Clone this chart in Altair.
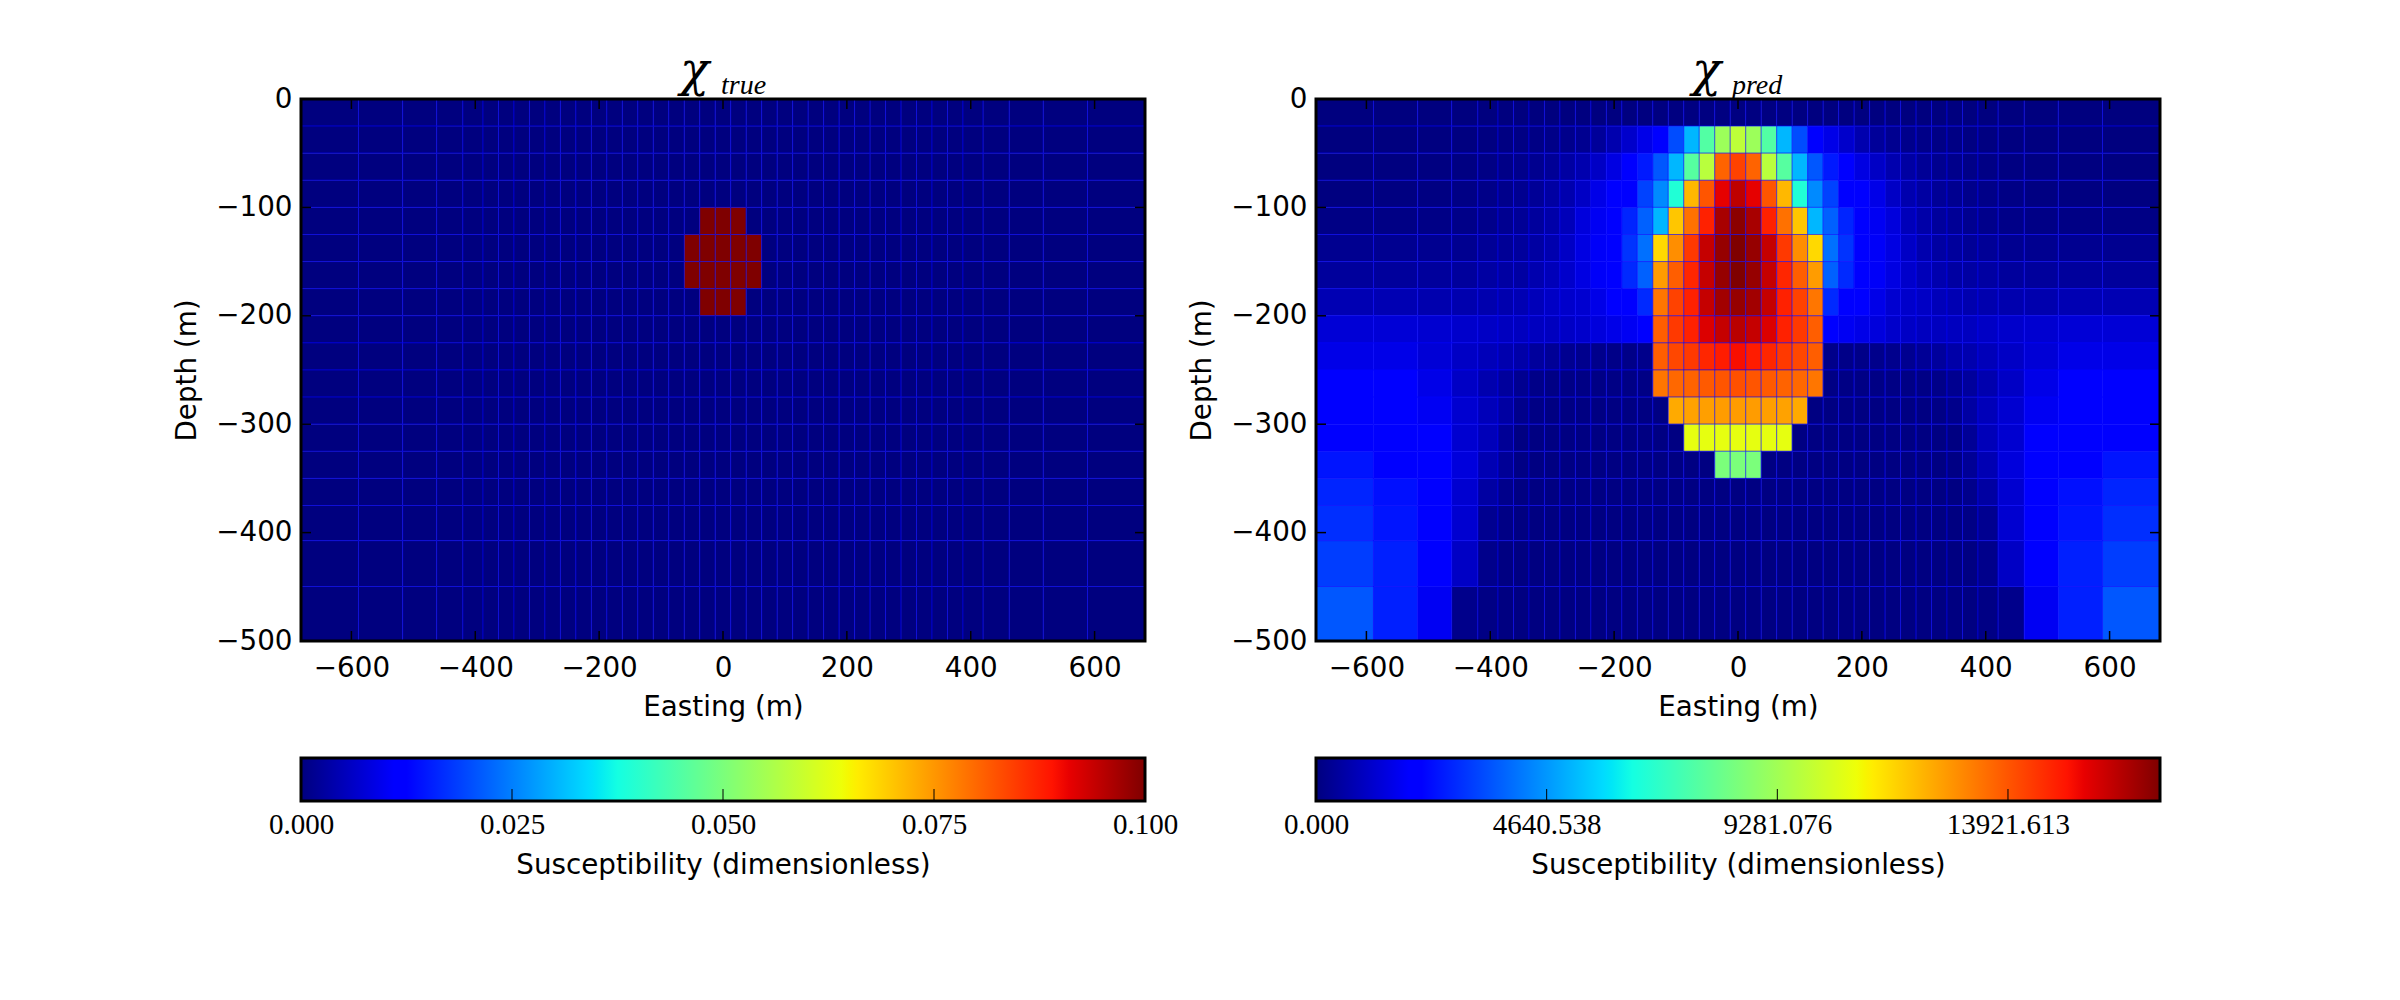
import altair as alt
import pandas as pd

# Mesh cell edges (m)
X_EDGES = [-681.4, -588.6, -517.2, -462.25, -420.0, -387.5, -362.5, -337.5, -312.5, -287.5, -262.5,
           -237.5, -212.5, -187.5, -162.5, -137.5, -112.5, -87.5, -62.5, -37.5, -12.5, 12.5,
           37.5, 62.5, 87.5, 112.5, 137.5, 162.5, 187.5, 212.5, 237.5, 262.5, 287.5, 312.5,
           337.5, 362.5, 387.5, 420.0, 462.25, 517.2, 588.6, 681.4]
Y_EDGES = [0, -25, -50, -75, -100, -125, -150, -175, -200, -225, -250, -275, -300, -325, -350,
           -375, -407.5, -449.75, -504.7]

# Predicted susceptibility, per mille of the colour range, top row first, west to east
PRED_ROWS = [
 [0,0,0,0,0,0,0,0,0,0,1,1,1,1,1,1,2,2,2,2,2,2,2,2,2,1,1,1,1,1,1,0,0,0,0,0,0,0,0,0,0],
 [0,0,1,1,2,3,4,5,8,10,15,22,40,65,90,125,200,305,450,540,580,540,450,305,200,125,90,65,40,22,15,10,8,5,4,3,2,1,1,0,0],
 [0,1,2,3,5,7,10,14,20,30,40,60,85,115,150,210,305,455,575,805,840,805,575,455,305,210,150,115,85,60,40,30,20,14,10,7,5,3,2,1,0],
 [1,2,3,5,8,10,15,20,30,40,60,90,110,125,190,260,390,715,820,912,946,912,820,715,390,260,190,125,110,90,60,40,30,20,15,10,8,5,3,2,1],
 [5,5,6,8,10,15,20,25,35,50,80,100,115,160,220,305,700,790,875,965,990,965,875,790,700,305,220,160,115,100,80,50,35,25,20,15,10,8,6,5,5],
 [15,15,15,15,20,20,25,30,40,60,85,105,125,175,235,680,760,850,940,980,1000,980,940,850,760,680,235,175,125,105,85,60,40,30,25,20,20,15,15,15,15],
 [25,25,25,25,30,30,30,40,50,65,85,105,125,165,220,745,810,870,940,980,1000,980,940,870,810,745,220,165,125,105,85,65,50,40,30,30,30,25,25,25,25],
 [45,45,40,40,40,40,45,50,60,65,70,90,110,120,165,785,840,875,940,970,980,970,940,875,840,785,165,120,110,90,70,65,60,50,45,40,40,40,40,45,45],
 [75,75,70,65,60,55,55,55,55,60,65,80,90,100,110,810,850,875,920,940,950,940,920,875,850,810,110,100,90,80,65,60,55,55,55,55,60,65,70,75,75],
 [90,90,75,60,50,40,35,25,20,15,12,10,8,8,10,810,835,850,870,880,895,880,870,850,835,810,10,8,8,10,12,15,20,25,35,40,50,60,75,90,90],
 [110,110,90,60,40,25,15,8,5,5,5,5,5,5,5,785,800,805,815,820,825,820,815,805,800,785,5,5,5,5,5,5,5,8,15,25,40,60,90,110,110],
 [115,110,100,70,50,30,10,5,3,3,3,3,3,3,3,3,730,738,742,745,745,745,742,738,730,3,3,3,3,3,3,3,3,5,10,30,50,70,100,110,115],
 [125,115,110,70,50,20,3,3,3,3,3,3,3,3,3,3,3,630,630,630,630,630,630,630,3,3,3,3,3,3,3,3,3,3,3,20,50,70,110,115,125],
 [145,125,110,80,45,20,5,3,3,3,3,3,3,3,3,3,3,3,3,500,500,500,3,3,3,3,3,3,3,3,3,3,3,3,5,20,45,80,110,125,145],
 [160,140,115,70,30,10,3,3,3,3,3,3,3,3,3,3,3,3,3,3,3,3,3,3,3,3,3,3,3,3,3,3,3,3,3,10,30,70,115,140,160],
 [170,145,115,70,15,5,2,2,2,2,2,2,2,2,2,2,2,2,2,2,2,2,2,2,2,2,2,2,2,2,2,2,2,2,2,5,15,70,115,145,170],
 [185,155,115,60,10,3,2,2,2,2,2,2,2,2,2,2,2,2,2,2,2,2,2,2,2,2,2,2,2,2,2,2,2,2,2,3,10,60,115,155,185],
 [210,155,100,10,5,2,2,2,2,2,2,2,2,2,2,2,2,2,2,2,2,2,2,2,2,2,2,2,2,2,2,2,2,2,2,2,5,10,100,155,210],
]
PRED_MAX = 16980.0
TRUE_MAX = 0.1
# True model: row index -> column indices holding the anomaly (0.1)
TRUE_BLOCK = {4: [19, 20, 21], 5: [18, 19, 20, 21, 22], 6: [18, 19, 20, 21, 22], 7: [19, 20, 21]}

X_TICKS = [-600, -400, -200, 0, 200, 400, 600]
Y_TICKS = [0, -100, -200, -300, -400, -500]
TRUE_CB_TICKS = [0.025, 0.05, 0.075]
TRUE_CB_LABELS = [0.0, 0.025, 0.05, 0.075, 0.1]
PRED_CB_TICKS = [4640.538, 9281.076, 13921.613]
PRED_CB_LABELS = [0.0, 4640.538, 9281.076, 13921.613]

# matplotlib jet: breakpoints and colours
JET_POS = [0, .11, .125, .34, .35, .375, .64, .65, .66, .89, .91, 1]
JET_COL = ["#00007f", "#0000ff", "#0000ff", "#00dbff", "#00e6f7", "#14ffe2", "#eeff08", "#f7f600",
           "#ffec00", "#ff1300", "#e80000", "#7f0000"]

W, H = 844, 542
CB_H = 43
FONT = "DejaVu Sans"
SIZE = 27.78
SERIF = "Liberation Serif"

xs = alt.Scale(domain=[X_EDGES[0], X_EDGES[-1]], nice=False, zero=False)
ys = alt.Scale(domain=[-500, 0], nice=False, zero=False)

COMMON_AXIS = dict(format="d", grid=False, domain=False, ticks=False, tickSize=0, labelFontSize=SIZE, titleFontSize=SIZE,
                   titleFontWeight="normal", labelFont=FONT, titleFont=FONT, labelColor="black", titleColor="black",
                   labelFlush=False, labelOverlap=False, labelBound=False)
X_AXIS = alt.Axis(values=X_TICKS, labelPadding=13, titlePadding=11.5, **COMMON_AXIS)
Y_AXIS = alt.Axis(values=Y_TICKS, labelPadding=9, titlePadding=14, **COMMON_AXIS)


def cells(value_at):
    recs = []
    for r in range(len(Y_EDGES) - 1):
        for c in range(len(X_EDGES) - 1):
            recs.append(dict(x0=X_EDGES[c], x1=X_EDGES[c + 1], y0=Y_EDGES[r], y1=Y_EDGES[r + 1], v=value_at(r, c)))
    return pd.DataFrame(recs)


def frame(w, h):
    return alt.Chart(pd.DataFrame({"a": [0]})).mark_rect(filled=False, stroke="black", strokeWidth=3, clip=False).encode(
        x=alt.value(0), x2=alt.value(w), y=alt.value(0), y2=alt.value(h))


def main_panel(df, vmax, sym, sub, sym_x, sub_x):
    color = alt.Color("v:Q", legend=None,
                      scale=alt.Scale(domain=[p * vmax for p in JET_POS], range=JET_COL, interpolate="rgb", clamp=True))
    tx = alt.X("t:Q", scale=xs, axis=X_AXIS, title="Easting (m)")
    ty = alt.Y("t:Q", scale=ys, axis=Y_AXIS, title="Depth (m)")
    mesh = alt.Chart(df).mark_rect(clip=True, stroke="#0000ff", strokeWidth=1, strokeOpacity=0.5).encode(
        x=alt.X("x0:Q", scale=xs, axis=X_AXIS, title="Easting (m)"),
        x2="x1:Q",
        y=alt.Y("y0:Q", scale=ys, axis=Y_AXIS, title="Depth (m)"),
        y2="y1:Q",
        color=color,
    )
    xt = pd.DataFrame({"t": X_TICKS})
    yt = pd.DataFrame({"t": Y_TICKS})
    tick = dict(color="black", strokeWidth=1.5)
    ticks = [
        alt.Chart(xt).mark_rule(**tick).encode(x=tx, y=alt.value(0), y2=alt.value(10)),
        alt.Chart(xt).mark_rule(**tick).encode(x=tx, y=alt.value(H - 10), y2=alt.value(H)),
        alt.Chart(yt).mark_rule(**tick).encode(y=ty, x=alt.value(0), x2=alt.value(10)),
        alt.Chart(yt).mark_rule(**tick).encode(y=ty, x=alt.value(W - 10), x2=alt.value(W)),
    ]
    t1 = alt.Chart(pd.DataFrame({"s": [sym]})).mark_text(font="DejaVu Serif", fontStyle="italic", fontSize=48, align="left",
                                                         baseline="alphabetic", color="black").encode(
        text="s:N", x=alt.value(sym_x), y=alt.value(-13))
    t2 = alt.Chart(pd.DataFrame({"s": [sub]})).mark_text(font=SERIF, fontStyle="italic", fontSize=28, align="left",
                                                         baseline="alphabetic", color="black").encode(
        text="s:N", x=alt.value(sub_x), y=alt.value(-5))
    return alt.layer(mesh, *ticks, frame(W, H), t1, t2).properties(width=W, height=H)


def colorbar(vmax, tick_vals, label_vals):
    sc = alt.Scale(domain=[0, vmax], nice=False, zero=False)
    grad = alt.Gradient(gradient="linear", x1=0, x2=1, y1=0, y2=0,
                        stops=[alt.GradientStop(offset=p, color=c) for p, c in zip(JET_POS, JET_COL)])
    bar = alt.Chart(pd.DataFrame({"a": [0]})).mark_rect(color=grad).encode(
        x=alt.value(0), x2=alt.value(W), y=alt.value(0), y2=alt.value(CB_H))
    ticks = alt.Chart(pd.DataFrame({"t": tick_vals})).mark_rule(color="black", strokeWidth=1).encode(
        x=alt.X("t:Q", scale=sc, title="Susceptibility (dimensionless)",
                axis=alt.Axis(values=label_vals, format=".3f", grid=False, domain=False, ticks=False, tickSize=0, labelPadding=9,
                              labelFont=SERIF, labelFontSize=29, titleFont=FONT, titleFontSize=SIZE,
                              titleFontWeight="normal", titlePadding=12.5, labelColor="black", titleColor="black",
                              labelFlush=False, labelOverlap=False, labelBound=False)),
        y=alt.value(CB_H - 12), y2=alt.value(CB_H))
    return alt.layer(bar, ticks, frame(W, CB_H)).properties(width=W, height=CB_H)


true_df = cells(lambda r, c: TRUE_MAX if c in TRUE_BLOCK.get(r, []) else 0.0)
pred_df = cells(lambda r, c: PRED_ROWS[r][c] / 1000 * PRED_MAX)

chart = alt.concat(
    main_panel(true_df, TRUE_MAX, "χ", "true", 379, 420),
    main_panel(pred_df, PRED_MAX, "χ", "pred", 376, 416),
    colorbar(TRUE_MAX, TRUE_CB_TICKS, TRUE_CB_LABELS),
    colorbar(PRED_MAX, PRED_CB_TICKS, PRED_CB_LABELS),
    columns=2, spacing={"row": 117, "column": 171}, bounds="flush",
).resolve_scale(color="independent").properties(
    padding={"left": 165, "top": 39, "right": 5, "bottom": 5}
).configure_view(stroke=None).configure(background="white")

chart.save("out.html", embed_options={"renderer": "svg", "actions": False})
